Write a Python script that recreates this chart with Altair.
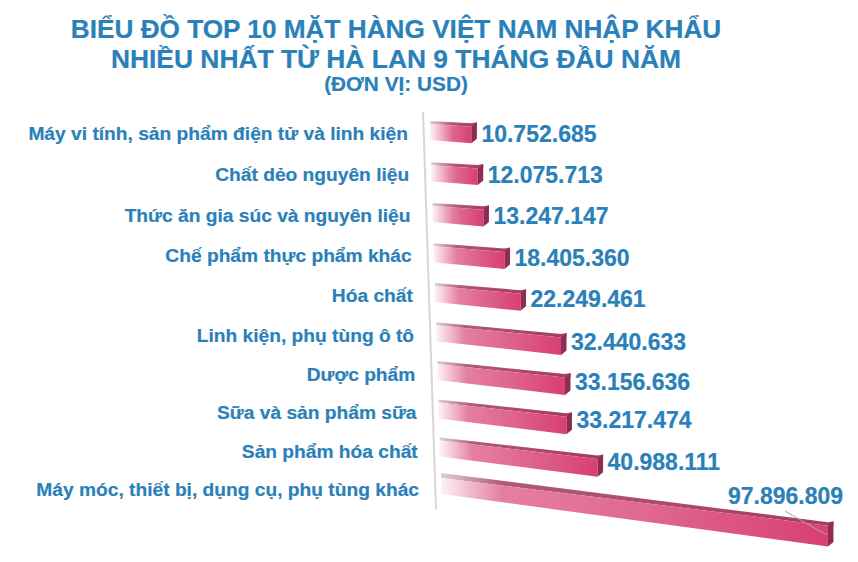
import altair as alt
import pandas as pd

categories = ["Máy vi tính, sản phẩm điện tử và linh kiện", "Chất dẻo nguyên liệu",
              "Thức ăn gia súc và nguyên liệu", "Chế phẩm thực phẩm khác", "Hóa chất",
              "Linh kiện, phụ tùng ô tô", "Dược phẩm", "Sữa và sản phẩm sữa",
              "Sản phẩm hóa chất", "Máy móc, thiết bị, dụng cụ, phụ tùng khác"]
values = [10752685, 12075713, 13247147, 18405360, 22249461,
          32440633, 33156636, 33217474, 40988111, 97896809]
title_lines = ["BIỂU ĐỒ TOP 10 MẶT HÀNG VIỆT NAM NHẬP KHẨU",
               "NHIỀU NHẤT TỪ HÀ LAN 9 THÁNG ĐẦU NĂM"]
unit_line = "(ĐƠN VỊ: USD)"

W, H = 842, 546
PX = 3.85 / 1e6          # pixels per USD
BLUE = "#2a80b9"
FONT = "Liberation Sans"
x_lo = -422 / PX
xs = alt.Scale(domain=[x_lo, x_lo + W / PX], range=[0, W], nice=False, zero=False)
ys = alt.Scale(domain=[H, 0], range=[H, 0], nice=False, zero=False)
X = lambda f: alt.X(f, type="quantitative", scale=xs, axis=None)
Y = lambda f: alt.Y(f, type="quantitative", scale=ys, axis=None)


def base_x(r):
    return 1.22 * r / PX


def top_y(r):
    return 116 + 41.4 * r - 0.23 * r * r


def stretched(v):
    # the picture's perspective lengthens the far end of the longest bar
    return v + max(0.0, v - 41e6) * 0.046


layers = []
# axis line
layers.append(
    alt.Chart(pd.DataFrame({"x": [base_x(0) - 7 / PX, base_x(9) - 5 / PX], "y": [104, 501]}))
    .mark_line(color="#d6d6d6", strokeWidth=2)
    .encode(x=X("x"), y=Y("y"))
)

lab_rows = []
for r, v in enumerate(values):
    b = base_x(r)
    e = b + stretched(v)
    d = e + 5.5 / PX
    t = top_y(r)
    L = stretched(v) * PX
    slope = 0.065 + 0.0065 * r
    tr = t + L * slope
    br = t + 16 + L * (slope + 0.012)
    fade = min(0.6, (14 + L * 0.12) / L)
    back_rise = 5 if r == 9 else 3
    front = pd.DataFrame({"x": [b, e], "y": [t, tr], "y2": [t + 16, br]})
    top = pd.DataFrame({"x": [b, e, d], "y": [t - back_rise, tr - 3.5, tr - 4.5],
                        "y2": [t, tr, tr]})
    side = pd.DataFrame({"x": [e, d], "y": [tr, tr - 4.5], "y2": [br, br - 4.5]})
    grad_front = alt.Gradient(gradient="linear", x1=0, x2=1, y1=0, y2=0, stops=[
        alt.GradientStop(color="#fdf3f6", offset=0),
        alt.GradientStop(color="#e57fa2", offset=fade),
        alt.GradientStop(color="#df6690", offset=0.55 if fade < 0.55 else 0.8),
        alt.GradientStop(color="#d83f75", offset=1)])
    grad_top = alt.Gradient(gradient="linear", x1=0, x2=1, y1=0, y2=0, stops=[
        alt.GradientStop(color="#ddd0d6", offset=0),
        alt.GradientStop(color="#b0597a", offset=fade),
        alt.GradientStop(color="#a53b60", offset=1)])
    layers.append(alt.Chart(top).mark_area(color=grad_top, interpolate="linear")
                  .encode(x=X("x"), y=Y("y"), y2="y2"))
    layers.append(alt.Chart(front).mark_area(color=grad_front, interpolate="linear")
                  .encode(x=X("x"), y=Y("y"), y2="y2"))
    layers.append(alt.Chart(side).mark_area(color="#8f2c52", interpolate="linear")
                  .encode(x=X("x"), y=Y("y"), y2="y2"))
    text = f"{v:,}".replace(",", ".")
    if r == 9:
        lab_rows.append({"t": text, "x": e - 100 / PX, "y": 489})
        # leader line for the largest value
        layers.append(
            alt.Chart(pd.DataFrame({"x": [e - 43 / PX, e - 1 / PX], "y": [503, 527]}))
            .mark_line(color="#a8a8a8", strokeWidth=1)
            .encode(x=X("x"), y=Y("y"))
        )
    else:
        lab_rows.append({"t": text, "x": d + 4.5 / PX, "y": (tr + br) / 2 - 0.6 * r})

# category labels
cat_df = pd.DataFrame({
    "c": categories,
    "x": [400 / PX + x_lo + 1.22 * r / PX for r in range(10)],
    "y": [126 + 41.3 * r - 0.2 * r * r for r in range(10)],
})
layers.append(
    alt.Chart(cat_df).mark_text(align="right", baseline="middle", font=FONT, fontWeight="bold",
                                fontSize=19.2, color=BLUE, stroke=BLUE, strokeWidth=0.2)
    .encode(x=X("x"), y=Y("y"), text="c")
)

# value labels
lab_df = pd.DataFrame(lab_rows)
layers.append(
    alt.Chart(lab_df).mark_text(align="left", baseline="middle", font=FONT, fontWeight="bold",
                                fontSize=23, color=BLUE, stroke=BLUE, strokeWidth=0.2)
    .encode(x=X("x"), y=Y("y"), text="t")
)

# title lines
for line, py, size in [(title_lines[0], 21.5, 26.2), (title_lines[1], 51.5, 26.4), (unit_line, 77, 20.8)]:
    layers.append(
        alt.Chart(pd.DataFrame({"t": [line]})).mark_text(
            align="center", baseline="middle", font=FONT, fontWeight="bold", fontSize=size,
            color=BLUE, stroke=BLUE, strokeWidth=0.2)
        .encode(x=alt.value(388), y=alt.value(py), text="t")
    )

chart = alt.layer(*layers).properties(
    width=W, height=H, padding=0, autosize=alt.AutoSizeParams(type="none")
).configure_view(stroke=None)

chart.save("out.html", embed_options={"renderer": "svg", "actions": False})
